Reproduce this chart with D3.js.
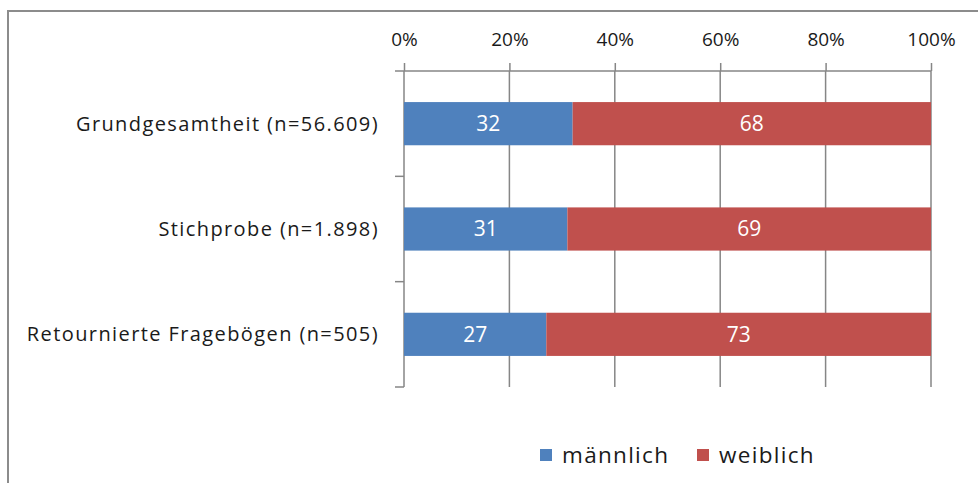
<!DOCTYPE html>
<html>
<head>
<meta charset="utf-8">
<script src="https://cdn.jsdelivr.net/npm/d3@7"></script>
<style>
  body { margin: 0; background: #fff; }
  svg text { font-family: "Open Sans", "Noto Sans", sans-serif; }
</style>
</head>
<body>
<svg id="chart" width="978" height="483"></svg>
<script>
// data
var categories = ["Grundgesamtheit (n=56.609)", "Stichprobe (n=1.898)", "Retournierte Fragebögen (n=505)"];
var maennlich = [32, 31, 27];
var weiblich = [68, 69, 73];
var seriesNames = ["männlich", "weiblich"];
var seriesColors = ["#4F81BD", "#C0504D"];
var tickValues = [0, 20, 40, 60, 80, 100];

var svg = d3.select("#chart");

// chart frame
svg.append("rect")
    .attr("x", 8).attr("y", 11)
    .attr("width", 1000).attr("height", 500)
    .attr("fill", "none")
    .attr("stroke", "#8c8c8c")
    .attr("stroke-width", 2);

var plotLeft = 404, plotRight = 931, plotTop = 71, plotBottom = 387;
var axisColor = "#868686";

var x = d3.scaleLinear().domain([0, 100]).range([plotLeft, plotRight]);
var y = d3.scaleBand().domain(categories).range([plotTop, plotBottom])
    .paddingInner(0.59).paddingOuter(0.295);

var rows = categories.map(function (c, i) {
    return { cat: c, values: [maennlich[i], weiblich[i]] };
});

// gridlines
svg.append("g").selectAll("line")
    .data(tickValues.slice(1))
    .enter().append("line")
    .attr("x1", d => x(d)).attr("x2", d => x(d))
    .attr("y1", plotTop).attr("y2", plotBottom)
    .attr("stroke", axisColor).attr("stroke-width", 1.5);

// top axis
var xAxis = svg.append("g")
    .attr("transform", `translate(0,${plotTop})`)
    .call(d3.axisTop(x).tickValues(tickValues).tickSize(8).tickPadding(17)
        .tickFormat(d => d + "%"));
xAxis.select(".domain").remove();
xAxis.append("line")
    .attr("x1", plotLeft - 9).attr("x2", plotRight).attr("y1", 0).attr("y2", 0)
    .attr("stroke", axisColor).attr("stroke-width", 1.5);
xAxis.selectAll(".tick line").attr("stroke", axisColor).attr("stroke-width", 1.5);
xAxis.selectAll(".tick text")
    .attr("fill", "#1a1a1a")
    .style("font-family", "'Open Sans', sans-serif")
    .style("font-size", "19px");

// left axis
var yEdges = [0, 1, 2, 3].map(i => plotTop + i * y.step());
svg.append("line")
    .attr("x1", plotLeft).attr("x2", plotLeft).attr("y1", plotTop).attr("y2", plotBottom)
    .attr("stroke", axisColor).attr("stroke-width", 1.5);
svg.append("g").selectAll("line")
    .data(yEdges.slice(1))
    .enter().append("line")
    .attr("x1", plotLeft - 9).attr("x2", plotLeft)
    .attr("y1", d => d).attr("y2", d => d)
    .attr("stroke", axisColor).attr("stroke-width", 1.5);

svg.append("g").selectAll("text")
    .data(categories)
    .enter().append("text")
    .attr("x", plotLeft - 25)
    .attr("y", d => y(d) + y.bandwidth() / 2)
    .attr("dy", "0.35em")
    .attr("text-anchor", "end")
    .attr("fill", "#1a1a1a")
    .style("font-size", "20px")
    .style("letter-spacing", "1.4px")
    .text(d => d);

// stacked bars
var row = svg.append("g").selectAll("g")
    .data(rows)
    .enter().append("g");

row.each(function (d) {
    var g = d3.select(this);
    var acc = 0;
    d.values.forEach(function (v, k) {
        var x0 = x(acc), x1 = x(acc + v);
        g.append("rect")
            .attr("x", x0).attr("y", y(d.cat))
            .attr("width", x1 - x0).attr("height", y.bandwidth())
            .attr("fill", seriesColors[k]);
        g.append("text")
            .attr("x", (x0 + x1) / 2)
            .attr("y", y(d.cat) + y.bandwidth() / 2)
            .attr("dy", "0.35em")
            .attr("text-anchor", "middle")
            .attr("fill", "#fff")
            .style("font-size", "21px")
            .text(v);
        acc += v;
    });
});

// legend
var legendX = [540, 697];
var legend = svg.append("g").selectAll("g")
    .data(seriesNames)
    .enter().append("g")
    .attr("transform", (d, i) => `translate(${legendX[i]},449)`);
legend.append("rect")
    .attr("width", 12).attr("height", 12)
    .attr("fill", (d, i) => seriesColors[i]);
legend.append("text")
    .attr("x", 22).attr("y", 6)
    .attr("dy", "0.35em")
    .attr("fill", "#1a1a1a")
    .style("font-size", "22.5px")
    .style("letter-spacing", "1.3px")
    .text(d => d);
</script>
</body>
</html>
